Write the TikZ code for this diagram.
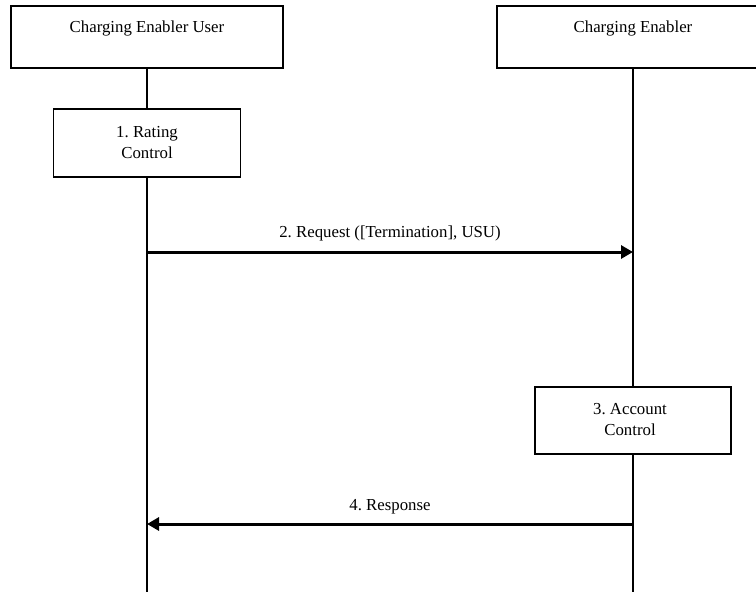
\documentclass[tikz,border=0pt]{standalone}
\usepackage{fontspec}
\setmainfont{Liberation Serif}
\usetikzlibrary{arrows.meta}
\frenchspacing
\begin{document}
\begin{tikzpicture}[x=1pt,y=-1pt,
  every node/.style={font=\fontsize{16.8}{21}\selectfont},
  actor/.style={draw,line width=1.2pt,minimum width=272pt,minimum height=62pt,inner sep=0pt},
  proc/.style={draw,line width=1.2pt,minimum width=187pt,minimum height=68pt,align=center,inner sep=0pt},
  life/.style={line width=1.3pt},
  msg/.style={line width=3pt,-{Triangle[length=12pt,width=13pt]}},
  lbl/.style={inner sep=0pt,anchor=base}]
\useasboundingbox (0,0) rectangle (756,592);
\node[actor] (u) at (147,37) {};
\node[lbl] (ut) at (147,32) {Charging Enabler User};
\node[actor] (e) at (633,37) {};
\node[lbl] (et) at (633,32) {Charging Enabler};
\node[proc] (rc) at (147,143) {1. Rating\\Control};
\node[proc,minimum width=196pt,minimum height=67pt] (ac) at (633,420.5) {};
\node[align=center,inner sep=0pt] (act) at (630,420) {3. Account\\Control};
\coordinate (ubot) at (147,592);
\coordinate (ebot) at (633,592);
\coordinate (ua) at (147,252);
\coordinate (ea) at (633,252);
\coordinate (ub) at (147,524);
\coordinate (eb) at (633,524);
\draw[life] (u.south) -- (rc.north);
\draw[life] (rc.south) -- (ubot);
\draw[life] (e.south) -- (ac.north);
\draw[life] (ac.south) -- (ebot);
\draw[msg] (ua) -- node[lbl,yshift=15pt] {2. Request ([Termination], USU)} (ea);
\draw[msg] (eb) -- node[lbl,yshift=14pt] {4. Response} (ub);
\end{tikzpicture}
\end{document}
